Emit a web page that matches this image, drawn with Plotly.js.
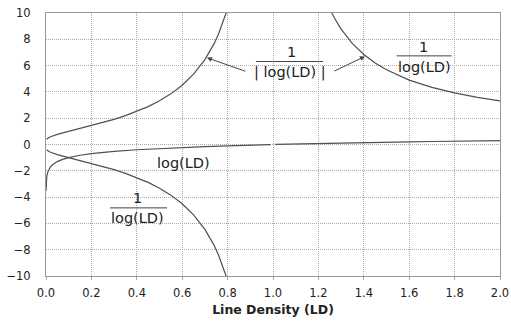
<!DOCTYPE html>
<html>
<head>
<meta charset="utf-8">
<script src="https://cdn.plot.ly/plotly-3.0.1.min.js"></script>
<style>html,body{margin:0;padding:0;background:#fff;}#chart{width:511px;height:327px;}</style>
</head>
<body>
<div id="chart"></div>
<script>
// log(LD) curve (gap at LD = 1)
const logX = [0.0003, 0.0005, 0.001, 0.002, 0.003, 0.005, 0.01, 0.02, 0.03, 0.05, 0.07, 0.1, 0.15, 0.2, 0.3, 0.4, 0.5, 0.6, 0.7, 0.8, 0.9, 0.99, 1.0, 1.01, 1.1, 1.2, 1.3, 1.4, 1.5, 1.6, 1.7, 1.8, 1.9, 2.0];
const logY = [-3.52, -3.30, -3.0, -2.70, -2.52, -2.30, -2.0, -1.70, -1.52, -1.30, -1.15, -1.0, -0.82, -0.70, -0.52, -0.40, -0.30, -0.22, -0.155, -0.097, -0.046, -0.004, null, 0.004, 0.041, 0.079, 0.114, 0.146, 0.176, 0.204, 0.230, 0.255, 0.279, 0.301];

// 1/|log(LD)| for LD < 1 (upper-left branch)
const lowX = [0.003, 0.005, 0.01, 0.02, 0.03, 0.05, 0.07, 0.1, 0.15, 0.2, 0.25, 0.3, 0.35, 0.4, 0.45, 0.5, 0.55, 0.6, 0.65, 0.7, 0.72, 0.74, 0.76, 0.78, 0.8, 0.81];
const invAbsY = [0.40, 0.435, 0.5, 0.589, 0.658, 0.769, 0.866, 1.0, 1.214, 1.431, 1.661, 1.912, 2.193, 2.513, 2.884, 3.322, 3.851, 4.508, 5.345, 6.456, 7.01, 7.65, 8.40, 9.29, 10.32, 10.86];

// 1/log(LD) for LD < 1 (lower-left branch)
const invNegY = [-0.40, -0.435, -0.5, -0.589, -0.658, -0.769, -0.866, -1.0, -1.214, -1.431, -1.661, -1.912, -2.193, -2.513, -2.884, -3.322, -3.851, -4.508, -5.345, -6.456, -7.01, -7.65, -8.40, -9.29, -10.32, -10.86];

// 1/log(LD) for LD > 1 (right branch)
const highX = [1.24, 1.25, 1.27, 1.3, 1.35, 1.4, 1.45, 1.5, 1.6, 1.7, 1.8, 1.9, 2.0];
const invPosY = [10.7, 10.32, 9.64, 8.78, 7.67, 6.84, 6.20, 5.68, 4.90, 4.34, 3.92, 3.59, 3.32];

const xTicks = [0, 0.2, 0.4, 0.6, 0.8, 1.0, 1.2, 1.4, 1.6, 1.8, 2.0];
const yTicks = [-10, -8, -6, -4, -2, 0, 2, 4, 6, 8, 10];

const lineStyle = {color: '#505050', width: 1.2};
const traces = [
  {x: logX, y: logY, mode: 'lines', line: lineStyle, connectgaps: false, hoverinfo: 'skip'},
  {x: lowX, y: invAbsY, mode: 'lines', line: lineStyle, hoverinfo: 'skip'},
  {x: lowX, y: invNegY, mode: 'lines', line: lineStyle, hoverinfo: 'skip'},
  {x: highX, y: invPosY, mode: 'lines', line: lineStyle, hoverinfo: 'skip'}
];

const lf = {family: 'DejaVu Sans, sans-serif', size: 14.5, color: '#222'};
function txt(x, y, t) {
  return {x: x, y: y, xref: 'x', yref: 'y', text: t, showarrow: false, font: lf, xanchor: 'center', yanchor: 'middle'};
}
const annotations = [
  txt(1.082, 7.0, '1'),
  txt(1.075, 5.5, '| log(LD) |'),
  txt(1.661, 7.45, '1'),
  txt(1.666, 5.92, 'log(LD)'),
  txt(0.604, -1.4, 'log(LD)'),
  txt(0.405, -4.06, '1'),
  txt(0.405, -5.6, 'log(LD)'),
  {x: 0.709, y: 6.6, ax: 0.885, ay: 5.53, xref: 'x', yref: 'y', axref: 'x', ayref: 'y', text: '', showarrow: true, arrowhead: 2, arrowsize: 1, arrowwidth: 1, arrowcolor: '#444'},
  {x: 1.405, y: 6.7, ax: 1.264, ay: 5.53, xref: 'x', yref: 'y', axref: 'x', ayref: 'y', text: '', showarrow: true, arrowhead: 2, arrowsize: 1, arrowwidth: 1, arrowcolor: '#444'}
];
const barLine = {color: '#444', width: 1};
const shapes = [
  {type: 'line', xref: 'x', yref: 'y', x0: 0.925, x1: 1.22, y0: 6.31, y1: 6.31, line: barLine},
  {type: 'line', xref: 'x', yref: 'y', x0: 1.545, x1: 1.787, y0: 6.74, y1: 6.74, line: barLine},
  {type: 'line', xref: 'x', yref: 'y', x0: 0.282, x1: 0.533, y0: -4.82, y1: -4.82, line: barLine}
];

const tf = {family: 'DejaVu Sans, sans-serif', size: 11.5, color: '#222'};
const layout = {
  width: 511, height: 327,
  margin: {l: 46, r: 11, t: 13, b: 51},
  paper_bgcolor: '#fff', plot_bgcolor: '#fff',
  showlegend: false,
  xaxis: {
    range: [0, 2], tickvals: xTicks, tickformat: '.1f',
    showgrid: true, gridcolor: '#aaaaaa', griddash: '1px,1px', gridwidth: 1,
    zeroline: false, showline: true, linecolor: '#999', mirror: true, linewidth: 1,
    ticks: 'outside', ticklen: 3, tickcolor: '#aaa', tickfont: tf, ticklabelstandoff: 3,
    title: {text: '<b>Line Density (LD)</b>', font: {family: 'DejaVu Sans, sans-serif', size: 12.5, color: '#222'}, standoff: 6}
  },
  yaxis: {
    range: [-10, 10], tickvals: yTicks,
    showgrid: true, gridcolor: '#aaaaaa', griddash: '1px,1px', gridwidth: 1,
    zeroline: false, showline: true, linecolor: '#999', mirror: true, linewidth: 1,
    ticks: '', tickfont: tf, ticklabelstandoff: 12
  },
  annotations: annotations,
  shapes: shapes
};
Plotly.newPlot('chart', traces, layout, {staticPlot: true, displayModeBar: false});
</script>
</body>
</html>
